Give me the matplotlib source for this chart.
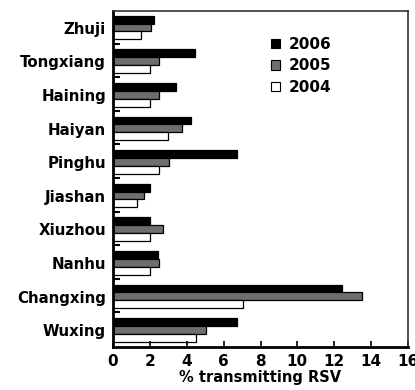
import matplotlib
matplotlib.use("Agg")
import matplotlib.pyplot as plt
import numpy as np
from matplotlib.patches import Patch

cities = ["Zhuji", "Tongxiang", "Haining", "Haiyan", "Pinghu",
          "Jiashan", "Xiuzhou", "Nanhu", "Changxing", "Wuxing"]
v2006 = [2.2, 4.45, 3.4, 4.25, 6.75, 2.0, 2.0, 2.45, 12.4, 6.7]
v2005 = [2.05, 2.5, 2.5, 3.75, 3.05, 1.7, 2.7, 2.5, 13.5, 5.05]
v2004 = [1.5, 2.0, 2.0, 3.0, 2.5, 1.3, 2.0, 2.0, 7.05, 4.5]
xticks = [0, 2, 4, 6, 8, 10, 12, 14, 16]

plt.rcParams["font.family"] = "DejaVu Sans"
plt.rcParams["font.weight"] = "bold"

fig = plt.figure(figsize=(4.15, 3.9), dpi=100)
ax = fig.add_axes([113 / 415, 1 - 347 / 390, (408 - 113) / 415, (347 - 11) / 390])

n = len(cities)
slot = np.arange(n)
h = 0.235
y0 = slot + 0.14
series = [(v2006, "black", "2006"), (v2005, "#6e6e6e", "2005"), (v2004, "white", "2004")]
for j, (vals, col, lab) in enumerate(series):
    ax.barh(y0 + j * h + h / 2, vals, height=h, color=col, edgecolor="black",
            linewidth=0.9, label=lab)

ax.set_ylim(n, 0)
ax.set_xlim(0, 16)
ax.set_xticks(xticks)
ax.set_xticklabels([str(t) for t in xticks], fontsize=11, fontweight="bold")
ax.set_yticks(slot + 0.5)
ax.set_yticklabels(cities, fontsize=10.8, fontweight="bold")
ax.tick_params(axis="y", which="major", length=0, pad=5)
ax.set_yticks(np.arange(1, n) - 0.03, minor=True)
ax.tick_params(axis="y", which="minor", direction="in", length=5, width=1.5)
ax.tick_params(axis="x", direction="in", length=4, width=1.2, pad=5)

for s in ["left", "bottom"]:
    ax.spines[s].set_linewidth(2)
for s in ["top", "right"]:
    ax.spines[s].set_linewidth(1.2)
    ax.spines[s].set_color("#333333")

ax.set_xlabel("% transmitting RSV", fontsize=10.5, fontweight="bold", labelpad=1)

handles = [Patch(facecolor=c, edgecolor="black", linewidth=0.8) for _, c, _ in series]
ax.legend(handles, [l for _, _, l in series], loc="upper left",
          bbox_to_anchor=(0.49, 0.965), frameon=False,
          handlelength=0.55, handleheight=0.55, handletextpad=0.6,
          labelspacing=0.45, prop={"weight": "bold", "size": 11})

fig.savefig("out.png", dpi=100)
